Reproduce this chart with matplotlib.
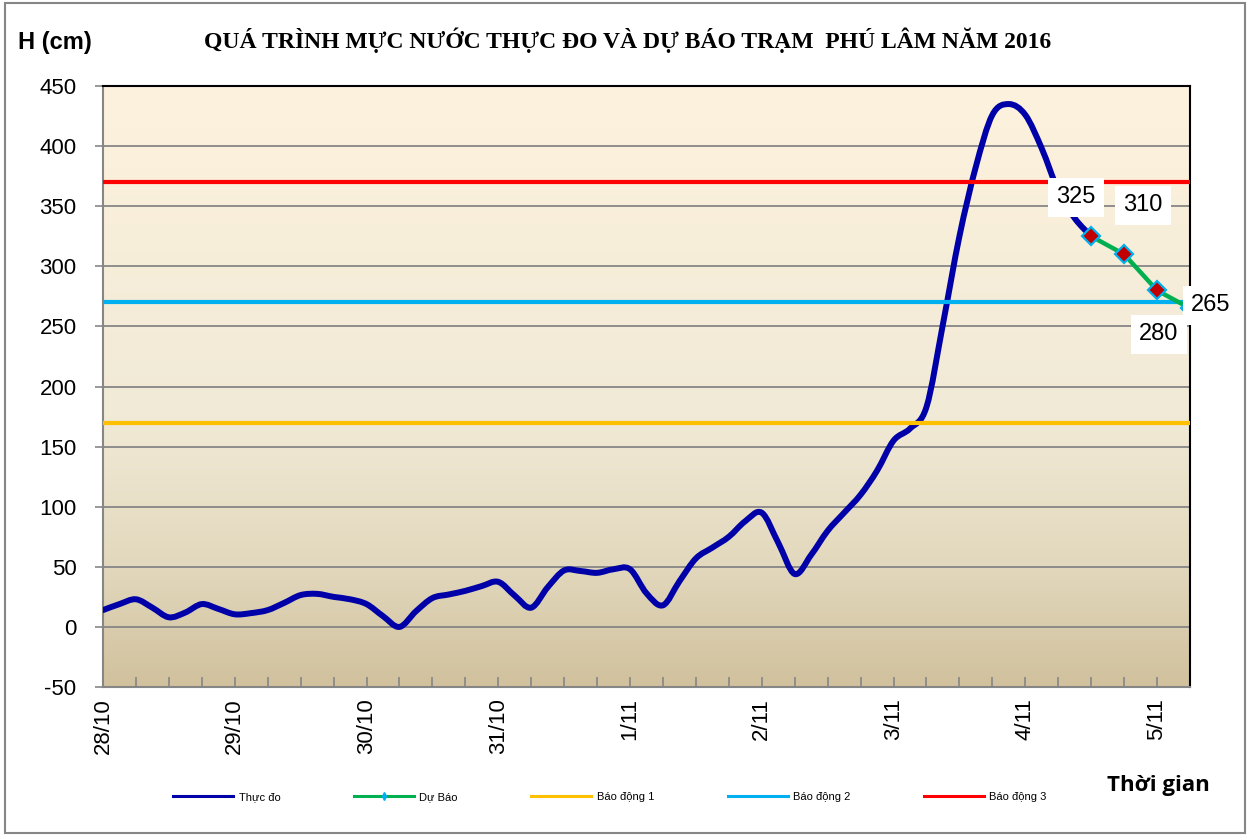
import numpy as np
import matplotlib
matplotlib.use("Agg")
import matplotlib.pyplot as plt
from matplotlib.path import Path
from matplotlib.patches import PathPatch, Rectangle
from matplotlib.lines import Line2D
from matplotlib.colors import LinearSegmentedColormap

plt.rcParams['font.family'] = ['Liberation Sans', 'DejaVu Sans']
plt.rcParams['axes.unicode_minus'] = False

# hours counted from 28/10 00:00, one reading every 3 hours
measured_hours = np.arange(0, 181, 3)
measured_level = [14, 19, 23, 16, 8, 12, 19, 15, 10.5, 11.5,
                  14, 20, 26.5, 27.5, 25, 23, 19, 9, 0, 13,
                  24, 27, 30, 34, 37.5, 26, 16, 33, 47, 46.5,
                  45, 48, 48, 28, 18, 38, 57, 66, 75, 88,
                  95, 70, 44, 60, 80, 95, 110, 130, 155, 165,
                  183, 252, 325, 383, 426, 435, 426, 398, 363, 340,
                  325]

forecast_hours = [180, 186, 192, 198]
forecast_level = [325, 310, 280, 265]

alarm_levels = [170, 270, 370]
alarm_names = ['Báo động 1', 'Báo động 2', 'Báo động 3']
alarm_colors = ['#FFC000', '#00B0F0', '#FF0000']

day_labels = ['28/10', '29/10', '30/10', '31/10', '1/11', '2/11', '3/11', '4/11', '5/11']


def smooth_path(xs, ys):
    # Excel-like smoothed line: Catmull-Rom segments as cubic Bezier curves
    pts = np.column_stack([xs, ys]).astype(float)
    n = len(pts)
    verts = [pts[0]]
    codes = [Path.MOVETO]
    for i in range(n - 1):
        p0 = pts[max(i - 1, 0)]
        p1 = pts[i]
        p2 = pts[i + 1]
        p3 = pts[min(i + 2, n - 1)]
        verts += [p1 + (p2 - p0) / 6, p2 - (p3 - p1) / 6, p2]
        codes += [Path.CURVE4] * 3
    return Path(verts, codes)


fig = plt.figure(figsize=(12.5, 8.36), dpi=100)
ax = fig.add_axes([0.0824, 0.1782, 0.8696, 0.7189])

# gradient background of the plot area
bg = LinearSegmentedColormap.from_list(
    'bg', [(0, '#D1C19D'), (0.2, '#E2D8BD'), (0.45, '#F1EAD6'), (1, '#FDF2DE')])
grad = np.linspace(0, 1, 256).reshape(-1, 1)
ax.imshow(grad, cmap=bg, origin='lower', aspect='auto',
          extent=[0, 198, -50, 450], zorder=0)

ax.set_xlim(0, 198)
ax.set_ylim(-50, 450)

# measured water level
ax.add_patch(PathPatch(smooth_path(measured_hours, measured_level),
                       facecolor='none', edgecolor='#0000A8', lw=4.3,
                       capstyle='round', joinstyle='round', zorder=3))

# forecast
ax.plot(forecast_hours, forecast_level, color='#00B050', lw=3.2, zorder=4,
        marker='D', markersize=9, markerfacecolor='#C00000',
        markeredgecolor='#00B0F0', markeredgewidth=1.6, clip_on=False)

for lvl, c in zip(alarm_levels, alarm_colors):
    ax.axhline(lvl, color=c, lw=3, zorder=3.5)

# forecast value labels
label_offsets = [(-15, 39), (19, 49), (2, -44), (21, 3)]
for h, v, off in zip(forecast_hours, forecast_level, label_offsets):
    ax.annotate(str(v), (h, v), xytext=off, textcoords='offset pixels',
                ha='center', va='center', fontsize=17, zorder=6,
                annotation_clip=False,
                bbox=dict(facecolor='white', edgecolor='none', pad=6))

# axes styling
ax.set_yticks(np.arange(-50, 451, 50))
ax.set_xticks(np.arange(0, 193, 24))
ax.set_xticklabels(day_labels, rotation=90)
ax.set_xticks(np.arange(0, 199, 6), minor=True)
ax.tick_params(axis='y', direction='out', length=6, width=1.2, color='#868686',
               pad=13, labelsize=16)
ax.tick_params(axis='x', which='both', direction='in', length=7, width=1.2,
               color='#868686', pad=8, labelsize=16)
ax.set_axisbelow(True)
ax.yaxis.grid(True, color='#868686', lw=1.3)
for s in ['left', 'bottom']:
    ax.spines[s].set_color('#868686')
    ax.spines[s].set_linewidth(1.5)
for s in ['top', 'right']:
    ax.spines[s].set_color('black')
    ax.spines[s].set_linewidth(1.5)

# texts
fig.text(0.502, 0.952, 'QUÁ TRÌNH MỰC NƯỚC THỰC ĐO VÀ DỰ BÁO TRẠM  PHÚ LÂM NĂM 2016',
         ha='center', va='center', fontsize=17, fontweight='bold',
         family=['Liberation Serif', 'DejaVu Serif'])
fig.text(0.044, 0.949, 'H (cm)', ha='center', va='center', fontsize=17,
         fontweight='bold')
fig.text(0.927, 0.061, 'Thời gian', ha='center', va='center', fontsize=16,
         fontweight='bold', family=['Open Sans', 'DejaVu Sans'])

# legend
handles = [Line2D([], [], color='#0000A8', lw=2.2),
           Line2D([], [], color='#00B050', lw=2.2, marker='d', markersize=4,
                  markerfacecolor='#00B0F0', markeredgecolor='#00B0F0')]
handles += [Line2D([], [], color=c, lw=2.2) for c in alarm_colors]
fig.legend(handles, ['Thực đo', 'Dự Báo'] + alarm_names, loc='center',
           bbox_to_anchor=(0.488, 0.047), ncol=5, frameon=False,
           prop={'size': 8, 'family': ['Liberation Sans Narrow', 'Liberation Sans', 'DejaVu Sans']},
           handlelength=5.4, handletextpad=0.5, columnspacing=6.6)

# outer frame
fig.patches.append(Rectangle((0.004, 0.004), 0.992, 0.992, transform=fig.transFigure,
                             fill=False, edgecolor='#868686', lw=1.5))

fig.savefig('out.png', dpi=100)
